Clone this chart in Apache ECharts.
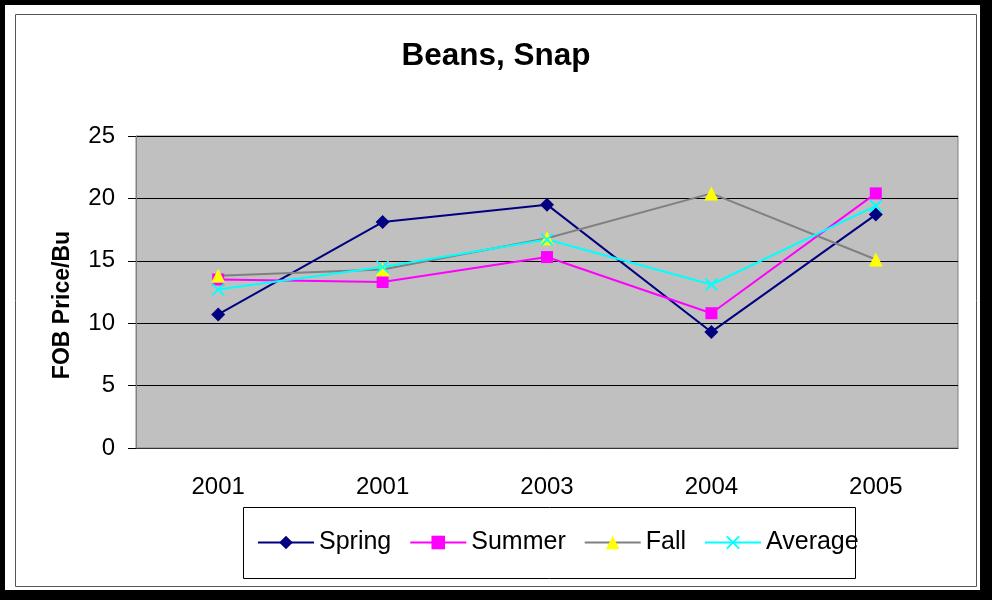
<!DOCTYPE html>
<html lang="en">
<head>
    <meta charset="utf-8">
    <script src="https://cdn.jsdelivr.net/npm/echarts@6/dist/echarts.min.js"></script>
    <style>
        html,
        body {
            margin: 0;
            width: 100%;
            height: 100%;
            background: #fff;
            overflow: hidden;
        }

        #chart {
            width: 992px;
            height: 600px;
        }
    </style>
</head>
<body>
<div id="chart"></div>
<script>
    var years = ['2001', '2001', '2003', '2004', '2005'];
    var spring = [10.7, 18.1, 19.5, 9.3, 18.7];
    var summer = [13.5, 13.3, 15.3, 10.8, 20.4];
    var fall = [13.8, 14.3, 16.8, 20.4, 15.1];
    var average = [12.7, 14.5, 16.7, 13.1, 19.4];
    var yTicks = [0, 5, 10, 15, 20, 25];

    // X marker for the average series
    var crossPath = 'path://M0,1L1,0L5,4L9,0L10,1L6,5L10,9L9,10L5,6L1,10L0,9L4,5Z';
    var font = 'Liberation Sans, Arial, sans-serif';

    var chart = echarts.init(document.getElementById('chart'));
    chart.setOption({
        animation: false,
        textStyle: {fontFamily: font},
        title: {
            text: 'Beans, Snap',
            left: 'center',
            top: 35,
            textStyle: {fontSize: 31.5, fontWeight: 'bold', color: '#000', fontFamily: font}
        },
        graphic: [
            // heavy outer frame (thicker on right / bottom)
            {type: 'rect', shape: {x: 0, y: 0, width: 992, height: 5}, style: {fill: '#000'}, z: 100},
            {type: 'rect', shape: {x: 0, y: 0, width: 5, height: 600}, style: {fill: '#000'}, z: 100},
            {type: 'rect', shape: {x: 980, y: 0, width: 12, height: 600}, style: {fill: '#000'}, z: 100},
            {type: 'rect', shape: {x: 0, y: 590, width: 992, height: 10}, style: {fill: '#000'}, z: 100},
            {type: 'rect', shape: {x: 15.5, y: 14.5, width: 961, height: 572}, style: {fill: 'none', stroke: '#555', lineWidth: 1}, z: 100},
            {type: 'rect', shape: {x: 243.5, y: 507.5, width: 612, height: 71}, style: {fill: 'none', stroke: '#000', lineWidth: 1}, z: 100}
        ],
        legend: {
            left: 252,
            top: 525,
            itemWidth: 56,
            itemHeight: 17,
            itemGap: 18,
            textStyle: {fontSize: 25, color: '#000', fontFamily: font},
            data: ['Spring', 'Summer', 'Fall', 'Average']
        },
        grid: {
            left: 136,
            right: 34,
            top: 136,
            height: 312,
            show: true,
            backgroundColor: '#c0c0c0',
            borderColor: '#808080',
            borderWidth: 1
        },
        xAxis: {
            type: 'category',
            data: years,
            axisLine: {lineStyle: {color: '#333', width: 1}},
            axisTick: {length: 8, lineStyle: {color: '#808080'}},
            axisLabel: {fontSize: 24, color: '#000', margin: 27, fontFamily: font}
        },
        yAxis: {
            type: 'value',
            min: yTicks[0],
            max: yTicks[yTicks.length - 1],
            interval: 5,
            name: 'FOB Price/Bu',
            nameLocation: 'middle',
            nameRotate: 90,
            nameGap: 62,
            nameTextStyle: {fontSize: 23, fontWeight: 'bold', color: '#000', fontFamily: font, padding: [0, 26, 0, 0]},
            axisLine: {show: true, lineStyle: {color: '#808080'}},
            axisTick: {show: true, length: 8, lineStyle: {color: '#000'}},
            axisLabel: {fontSize: 24, color: '#000', margin: 21, fontFamily: font},
            splitLine: {lineStyle: {color: '#000', width: 1}}
        },
        series: [
            {
                name: 'Spring',
                type: 'line',
                data: spring,
                symbol: 'diamond',
                symbolSize: 14,
                lineStyle: {color: '#000080', width: 2},
                itemStyle: {color: '#000080'}
            },
            {
                name: 'Summer',
                type: 'line',
                data: summer,
                symbol: 'rect',
                symbolSize: 12,
                lineStyle: {color: '#ff00ff', width: 2},
                itemStyle: {color: '#ff00ff'}
            },
            {
                name: 'Fall',
                type: 'line',
                data: fall,
                symbol: 'triangle',
                symbolSize: 14,
                lineStyle: {color: '#808080', width: 2},
                itemStyle: {color: '#ffff00'}
            },
            {
                name: 'Average',
                type: 'line',
                data: average,
                symbol: crossPath,
                symbolSize: 13,
                lineStyle: {color: '#00ffff', width: 2},
                itemStyle: {color: '#00ffff'}
            }
        ]
    });
</script>
</body>
</html>
